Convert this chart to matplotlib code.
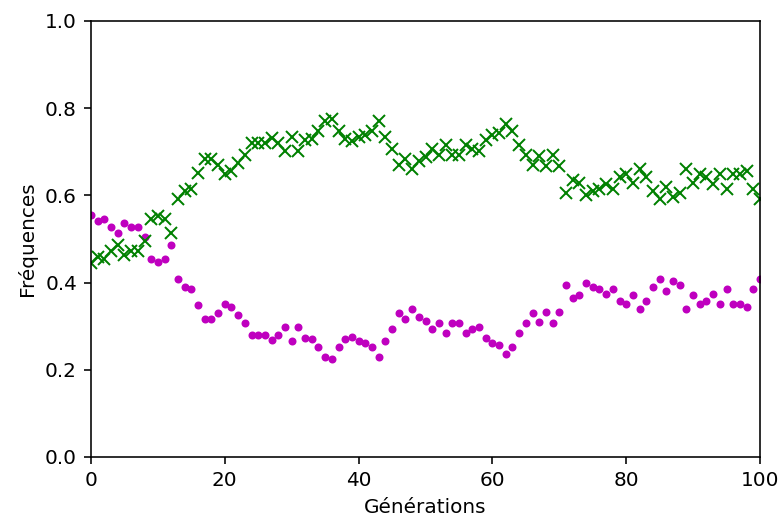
import matplotlib
matplotlib.use("Agg")
import matplotlib.pyplot as plt

# =====================
# Data
# =====================
generations = list(range(101))

freq_magenta = [
    0.555, 0.541, 0.546, 0.528, 0.513, 0.537, 0.528, 0.528, 0.505, 0.453,
    0.448, 0.453, 0.486, 0.408, 0.389, 0.385, 0.348, 0.317, 0.317, 0.330,
    0.350, 0.343, 0.326, 0.307, 0.279, 0.280, 0.280, 0.268, 0.280, 0.299,
    0.266, 0.299, 0.274, 0.270, 0.252, 0.229, 0.224, 0.252, 0.270, 0.276,
    0.266, 0.262, 0.252, 0.229, 0.266, 0.293, 0.330, 0.316, 0.339, 0.322,
    0.311, 0.293, 0.308, 0.284, 0.308, 0.308, 0.284, 0.293, 0.299, 0.274,
    0.261, 0.257, 0.236, 0.252, 0.284, 0.307, 0.330, 0.310, 0.333, 0.307,
    0.333, 0.394, 0.365, 0.372, 0.398, 0.391, 0.385, 0.375, 0.385, 0.358,
    0.352, 0.372, 0.339, 0.358, 0.389, 0.408, 0.381, 0.404, 0.394, 0.339,
    0.372, 0.352, 0.358, 0.375, 0.352, 0.385, 0.352, 0.352, 0.343, 0.385,
    0.408,
]

freq_green = [
    0.445, 0.459, 0.454, 0.472, 0.487, 0.463, 0.472, 0.472, 0.495, 0.547,
    0.552, 0.547, 0.514, 0.592, 0.611, 0.615, 0.652, 0.683, 0.683, 0.670,
    0.650, 0.657, 0.674, 0.693, 0.721, 0.720, 0.720, 0.732, 0.720, 0.701,
    0.734, 0.701, 0.726, 0.730, 0.748, 0.771, 0.776, 0.748, 0.730, 0.724,
    0.734, 0.738, 0.748, 0.771, 0.734, 0.707, 0.670, 0.684, 0.661, 0.678,
    0.689, 0.707, 0.692, 0.716, 0.692, 0.692, 0.716, 0.707, 0.701, 0.726,
    0.739, 0.743, 0.764, 0.748, 0.716, 0.693, 0.670, 0.690, 0.667, 0.693,
    0.667, 0.606, 0.635, 0.628, 0.602, 0.609, 0.615, 0.625, 0.615, 0.642,
    0.648, 0.628, 0.661, 0.642, 0.611, 0.592, 0.619, 0.596, 0.606, 0.661,
    0.628, 0.648, 0.642, 0.625, 0.648, 0.615, 0.648, 0.648, 0.657, 0.615,
    0.592,
]

# =====================
# Plot
# =====================
plt.rcParams.update({'font.size': 10, 'font.family': 'DejaVu Sans'})

fig = plt.figure(figsize=(779 / 144, 524 / 144), dpi=144)
ax = fig.add_axes([91 / 779, 1 - 457 / 524, (760 - 91) / 779, (457 - 21) / 524])

ax.plot(generations, freq_magenta, 'm.')
ax.plot(generations, freq_green, 'gx')

ax.set_xlim(0, 100)
ax.set_ylim(0, 1)
ax.set_xlabel("Générations")
ax.set_ylabel("Fréquences")

fig.savefig("out.png", dpi=144)
